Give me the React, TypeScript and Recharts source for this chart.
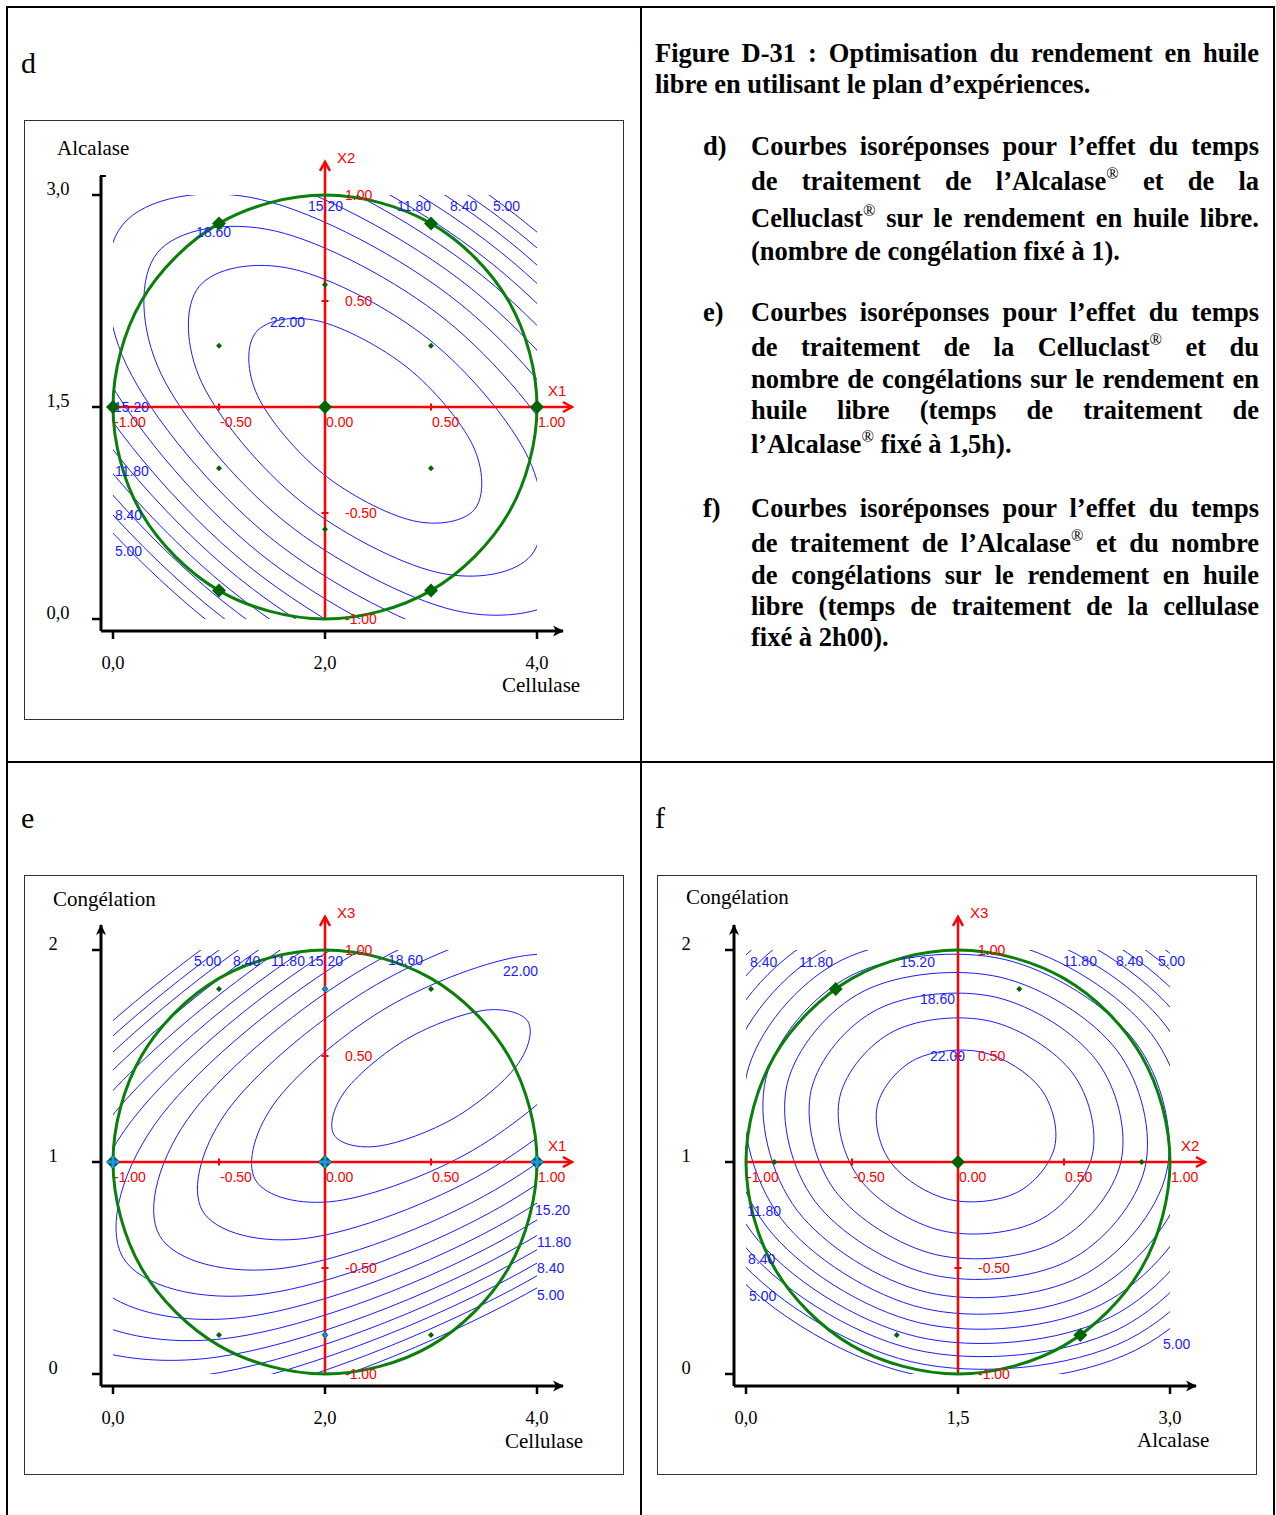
import React from 'react';
import { ComposedChart, Line, Scatter, XAxis, YAxis } from 'recharts';

type Pt = [number, number];
type Contour = { level: number; pts: Pt[] };
type CLabel = { x: number; y: number; text: string };

// ================= DATA (coded units -1..1) =================
// Panel d : X1 = Cellulase, X2 = Alcalase
const dContours: Contour[] = [
  { level: 22.0, pts: [[0.706,-0.482],[0.698,-0.183],[0.391,0.184],[-0.033,0.406],[-0.326,0.352],[-0.318,0.053],[-0.011,-0.314],[0.413,-0.536]] },
  { level: 20.3, pts: [[0.974,-0.698],[0.961,-0.244],[0.496,0.314],[-0.149,0.650],[-0.594,0.568],[-0.581,0.114],[-0.116,-0.444],[0.529,-0.780]] },
  { level: 18.6, pts: [[1.171,-0.857],[1.155,-0.290],[0.572,0.409],[-0.234,0.830],[-0.791,0.727],[-0.775,0.160],[-0.192,-0.539],[0.614,-0.960]] },
  { level: 16.9, pts: [[1.335,-0.989],[1.316,-0.327],[0.636,0.488],[-0.305,0.979],[-0.955,0.859],[-0.936,0.197],[-0.256,-0.618],[0.685,-1.109]] },
  { level: 15.2, pts: [[1.478,-1.104],[1.456,-0.360],[0.692,0.557],[-0.367,1.109],[-1.098,0.974],[-1.076,0.230],[-0.312,-0.687],[0.747,-1.239]] },
  { level: 13.5, pts: [[1.607,-1.208],[1.583,-0.389],[0.742,0.619],[-0.422,1.227],[-1.227,1.078],[-1.203,0.259],[-0.362,-0.749],[0.802,-1.357]] },
  { level: 11.8, pts: [[1.725,-1.303],[1.699,-0.416],[0.788,0.676],[-0.473,1.334],[-1.345,1.173],[-1.319,0.286],[-0.408,-0.806],[0.853,-1.464]] },
  { level: 10.1, pts: [[1.834,-1.392],[1.806,-0.441],[0.831,0.729],[-0.521,1.434],[-1.454,1.262],[-1.426,0.311],[-0.451,-0.859],[0.901,-1.564]] },
  { level: 8.4, pts: [[1.937,-1.474],[1.907,-0.465],[0.871,0.779],[-0.565,1.528],[-1.557,1.344],[-1.527,0.335],[-0.491,-0.909],[0.945,-1.658]] },
  { level: 6.7, pts: [[2.034,-1.553],[2.003,-0.487],[0.909,0.826],[-0.607,1.616],[-1.654,1.423],[-1.623,0.357],[-0.529,-0.956],[0.987,-1.746]] },
  { level: 5.0, pts: [[2.126,-1.627],[2.093,-0.508],[0.945,0.870],[-0.647,1.700],[-1.746,1.497],[-1.713,0.378],[-0.565,-1.000],[1.027,-1.830]] },
];

// Panel e : X1 = Cellulase, X3 = Congélation
const eContours: Contour[] = [
  { level: 23.7, pts: [[0.958,0.661],[0.747,0.715],[0.391,0.583],[0.099,0.340],[0.042,0.129],[0.253,0.075],[0.609,0.207],[0.901,0.450]] },
  { level: 22.0, pts: [[1.328,0.875],[0.946,0.974],[0.303,0.735],[-0.225,0.295],[-0.328,-0.085],[0.054,-0.184],[0.697,0.055],[1.225,0.495]] },
  { level: 20.3, pts: [[1.578,1.020],[1.081,1.149],[0.243,0.837],[-0.443,0.265],[-0.578,-0.230],[-0.081,-0.359],[0.757,-0.047],[1.443,0.525]] },
  { level: 18.6, pts: [[1.780,1.138],[1.189,1.290],[0.195,0.920],[-0.620,0.240],[-0.780,-0.348],[-0.189,-0.500],[0.805,-0.130],[1.620,0.550]] },
  { level: 16.9, pts: [[1.954,1.239],[1.283,1.412],[0.154,0.991],[-0.772,0.219],[-0.954,-0.449],[-0.283,-0.622],[0.846,-0.201],[1.772,0.571]] },
  { level: 15.2, pts: [[2.109,1.329],[1.367,1.520],[0.117,1.055],[-0.908,0.200],[-1.109,-0.539],[-0.367,-0.730],[0.883,-0.265],[1.908,0.590]] },
  { level: 13.5, pts: [[2.250,1.411],[1.443,1.619],[0.083,1.113],[-1.032,0.183],[-1.250,-0.621],[-0.443,-0.829],[0.917,-0.323],[2.032,0.607]] },
  { level: 11.8, pts: [[2.382,1.487],[1.514,1.711],[0.052,1.167],[-1.147,0.167],[-1.382,-0.697],[-0.514,-0.921],[0.948,-0.377],[2.147,0.623]] },
  { level: 10.1, pts: [[2.504,1.558],[1.580,1.797],[0.023,1.217],[-1.254,0.153],[-1.504,-0.768],[-0.580,-1.007],[0.977,-0.427],[2.254,0.637]] },
  { level: 8.4, pts: [[2.619,1.625],[1.642,1.877],[-0.005,1.264],[-1.355,0.139],[-1.619,-0.835],[-0.642,-1.087],[1.005,-0.474],[2.355,0.651]] },
  { level: 6.7, pts: [[2.729,1.688],[1.701,1.954],[-0.031,1.309],[-1.451,0.125],[-1.729,-0.898],[-0.701,-1.164],[1.031,-0.519],[2.451,0.665]] },
  { level: 5.0, pts: [[2.833,1.749],[1.757,2.027],[-0.056,1.352],[-1.542,0.113],[-1.833,-0.959],[-0.757,-1.237],[1.056,-0.562],[2.542,0.677]] },
];

// Panel f : X2 = Alcalase, X3 = Congélation
const fContours: Contour[] = [
  { level: 22.0, pts: [[0.456,0.072],[0.390,0.346],[0.119,0.517],[-0.200,0.485],[-0.380,0.268],[-0.314,-0.006],[-0.043,-0.177],[0.276,-0.145]] },
  { level: 20.3, pts: [[0.633,0.031],[0.539,0.421],[0.153,0.664],[-0.301,0.618],[-0.557,0.309],[-0.463,-0.081],[-0.077,-0.324],[0.377,-0.278]] },
  { level: 18.6, pts: [[0.768,-0.001],[0.654,0.478],[0.180,0.777],[-0.378,0.721],[-0.692,0.341],[-0.578,-0.138],[-0.104,-0.437],[0.454,-0.381]] },
  { level: 16.9, pts: [[0.882,-0.027],[0.750,0.526],[0.202,0.871],[-0.443,0.807],[-0.806,0.367],[-0.674,-0.186],[-0.126,-0.531],[0.519,-0.467]] },
  { level: 15.2, pts: [[0.983,-0.051],[0.835,0.568],[0.221,0.955],[-0.500,0.882],[-0.907,0.391],[-0.759,-0.228],[-0.145,-0.615],[0.576,-0.542]] },
  { level: 13.5, pts: [[1.073,-0.072],[0.911,0.606],[0.239,1.030],[-0.551,0.951],[-0.997,0.412],[-0.835,-0.266],[-0.163,-0.690],[0.627,-0.611]] },
  { level: 11.8, pts: [[1.157,-0.092],[0.981,0.642],[0.255,1.099],[-0.599,1.013],[-1.081,0.432],[-0.905,-0.302],[-0.179,-0.759],[0.675,-0.673]] },
  { level: 10.1, pts: [[1.234,-0.110],[1.047,0.674],[0.270,1.164],[-0.643,1.072],[-1.158,0.450],[-0.971,-0.334],[-0.194,-0.824],[0.719,-0.732]] },
  { level: 8.4, pts: [[1.307,-0.127],[1.108,0.705],[0.284,1.224],[-0.684,1.127],[-1.231,0.467],[-1.032,-0.365],[-0.208,-0.884],[0.760,-0.787]] },
  { level: 6.7, pts: [[1.376,-0.143],[1.166,0.734],[0.297,1.282],[-0.724,1.179],[-1.300,0.483],[-1.090,-0.394],[-0.221,-0.942],[0.800,-0.839]] },
  { level: 5.0, pts: [[1.442,-0.158],[1.221,0.762],[0.310,1.336],[-0.761,1.228],[-1.366,0.498],[-1.145,-0.422],[-0.234,-0.996],[0.837,-0.888]] },
];

// experimental domain (Doehlert sphere, radius 1)
const designCircle: Pt[] = [[1,0],[0.866,0.5],[0.5,0.866],[0,1],[-0.5,0.866],[-0.866,0.5],[-1,0],[-0.866,-0.5],[-0.5,-0.866],[0,-1],[0.5,-0.866],[0.866,-0.5]];

const dBigPoints: Pt[] = [[-1,0],[0,0],[1,0],[-0.5,0.866],[0.5,0.866],[-0.5,-0.866],[0.5,-0.866]];
const dSmallPoints: Pt[] = [[0,0.577],[-0.5,0.289],[0.5,0.289],[-0.5,-0.289],[0.5,-0.289],[0,-0.577]];
const eBigPoints: Pt[] = [[-1,0],[0,0],[1,0]];
const eSmallPoints: Pt[] = [[-0.5,0.816],[0.5,0.816],[-0.5,-0.816],[0.5,-0.816]];
const eSmallBluePoints: Pt[] = [[0,0.816],[0,-0.816]];
const fBigPoints: Pt[] = [[0,0],[-0.577,0.816],[0.577,-0.816]];
const fSmallPoints: Pt[] = [[-0.866,0],[0.866,0],[0.289,0.816],[-0.289,-0.816]];

const dContourLabels: CLabel[] = [
  { x: -0.080, y: 0.950, text: '15.20' }, { x: 0.340, y: 0.950, text: '11.80' },
  { x: 0.590, y: 0.950, text: '8.40' }, { x: 0.792, y: 0.950, text: '5.00' },
  { x: -0.608, y: 0.825, text: '18.60' }, { x: -0.259, y: 0.401, text: '22.00' },
  { x: -0.995, y: 0.0, text: '15.20' }, { x: -0.991, y: -0.304, text: '11.80' },
  { x: -0.991, y: -0.507, text: '8.40' }, { x: -0.991, y: -0.677, text: '5.00' },
];
const eContourLabels: CLabel[] = [
  { x: -0.618, y: 0.948, text: '5.00' }, { x: -0.434, y: 0.948, text: '8.40' },
  { x: -0.255, y: 0.948, text: '11.80' }, { x: -0.080, y: 0.948, text: '15.20' },
  { x: 0.297, y: 0.953, text: '18.60' }, { x: 0.840, y: 0.901, text: '22.00' },
  { x: 0.991, y: -0.226, text: '15.20' }, { x: 1.0, y: -0.377, text: '11.80' },
  { x: 1.0, y: -0.500, text: '8.40' }, { x: 1.0, y: -0.627, text: '5.00' },
];
const fContourLabels: CLabel[] = [
  { x: -0.981, y: 0.943, text: '8.40' }, { x: -0.750, y: 0.943, text: '11.80' },
  { x: -0.274, y: 0.943, text: '15.20' }, { x: -0.179, y: 0.769, text: '18.60' },
  { x: -0.132, y: 0.500, text: '22.00' }, { x: 0.495, y: 0.948, text: '11.80' },
  { x: 0.745, y: 0.948, text: '8.40' }, { x: 0.943, y: 0.948, text: '5.00' },
  { x: -0.995, y: -0.231, text: '11.80' }, { x: -0.990, y: -0.458, text: '8.40' },
  { x: -0.986, y: -0.632, text: '5.00' }, { x: 0.967, y: -0.858, text: '5.00' },
];

const outerTicks = [-1, 0, 1];
const dXTickLabels = ['0,0', '2,0', '4,0'];
const dYTickLabels = ['0,0', '1,5', '3,0'];
const eXTickLabels = ['0,0', '2,0', '4,0'];
const eYTickLabels = ['0', '1', '2'];
const fXTickLabels = ['0,0', '1,5', '3,0'];
const fYTickLabels = ['0', '1', '2'];

const hAxisTicks = [-1, -0.5, 0, 0.5, 1];
const hAxisTickLabels = ['-1.00', '-0.50', '0.00', '0.50', '1.00'];
const vAxisTicks = [1, 0.5, -0.5, -1];
const vAxisTickLabels = ['1.00', '0.50', '-0.50', '-1.00'];
const hAxisEnd = 1.165;
const vAxisEnd = 1.156;

// ================= STYLE / LAYOUT =================
const SANS = '"Liberation Sans", Arial, sans-serif';
const SERIF = '"Liberation Serif", "Times New Roman", serif';
const BLUE = '#1a1aff';
const RED = '#ff0000';
const GREEN_LINE = '#0a7f0a';
const GREEN_PT = '#006400';
const CROSS_BLUE = '#1e90ff';

const BOX = 600;
const C_X = 301, C_Y = 287, UNIT = 212;
const PLOT_L = 77, PLOT_R = 560, PLOT_T = 35, PLOT_B = 511;
const toX = (px: number) => (px - C_X) / UNIT;
const toY = (py: number) => (C_Y - py) / UNIT;

// Catmull-Rom closed curve (passes through every point)
function catmullRom(closed: boolean) {
  return (context: any) => {
    let pts: number[][] = [];
    return {
      areaStart() {},
      areaEnd() {},
      lineStart() { pts = []; },
      point(x: number, y: number) { pts.push([+x, +y]); },
      lineEnd() {
        const n = pts.length;
        if (!n) return;
        const at = (i: number) => closed ? pts[((i % n) + n) % n] : pts[Math.min(n - 1, Math.max(0, i))];
        context.moveTo(pts[0][0], pts[0][1]);
        const segs = closed ? n : n - 1;
        for (let i = 0; i < segs; i++) {
          const p0 = at(i - 1), p1 = at(i), p2 = at(i + 1), p3 = at(i + 2);
          context.bezierCurveTo(
            p1[0] + (p2[0] - p0[0]) / 6, p1[1] + (p2[1] - p0[1]) / 6,
            p2[0] - (p3[0] - p1[0]) / 6, p2[1] - (p3[1] - p1[1]) / 6,
            p2[0], p2[1]);
        }
        if (closed) context.closePath();
      },
    };
  };
}
const closedCurve = catmullRom(true);

const toXY = (pts: Pt[]) => pts.map(([x, y]) => ({ x, y }));

const diamond = (half: number, fill: string) => (p: any) => (
  <polygon points={`${p.cx},${p.cy - half} ${p.cx + half},${p.cy} ${p.cx},${p.cy + half} ${p.cx - half},${p.cy}`} fill={fill} />
);
const crossDiamond = (p: any) => (
  <g>
    <polygon points={`${p.cx},${p.cy - 7} ${p.cx + 7},${p.cy} ${p.cx},${p.cy + 7} ${p.cx - 7},${p.cy}`} fill={GREEN_PT} />
    <path d={`M${p.cx - 6},${p.cy}H${p.cx + 6}M${p.cx},${p.cy - 6}V${p.cy + 6}`} stroke={CROSS_BLUE} strokeWidth={3} />
  </g>
);
const smallCross = (p: any) => (
  <g>
    <polygon points={`${p.cx},${p.cy - 3.5} ${p.cx + 3.5},${p.cy} ${p.cx},${p.cy + 3.5} ${p.cx - 3.5},${p.cy}`} fill={GREEN_PT} />
    <path d={`M${p.cx - 3},${p.cy}H${p.cx + 3}M${p.cx},${p.cy - 3}V${p.cy + 3}`} stroke={CROSS_BLUE} strokeWidth={1.5} />
  </g>
);

type PanelProps = {
  left: number; top: number;
  contours: Contour[]; labels: CLabel[];
  big: Pt[]; small: Pt[]; smallBlue?: Pt[]; crossMarkers?: boolean;
  xTickLabels: string[]; yTickLabels: string[];
  hName: string; vName: string;
  xTitle: string; yTitle: string;
  yTickCenter: number; yAxisTopPx: number; yArrow: boolean;
  titleY: { x: number; base: number }; titleX: { x: number; base: number };
};

function Txt(props: { x: number; base: number; size: number; bold?: boolean; width?: number; justify?: boolean; children: any }) {
  const { x, base, size, bold, width, justify, children } = props;
  return (
    <div style={{
      position: 'absolute', left: x, top: base - 0.8375 * size, width: width, fontFamily: SERIF,
      fontSize: size, lineHeight: `${size}px`, fontWeight: bold ? 'bold' : 'normal', color: '#000',
      textAlign: justify ? 'justify' : 'left', textAlignLast: justify ? 'justify' : 'left', whiteSpace: width ? 'normal' : 'nowrap',
    } as any}>{children}</div>
  );
}

function Panel(props: PanelProps) {
  const { left, top } = props;
  const xDom = [toX(PLOT_L), toX(PLOT_R)];
  const yDom = [toY(PLOT_B), toY(PLOT_T)];
  const xTip = toX(539);
  const yTip = toY(props.yAxisTopPx);
  const outerXLine = [{ x: xDom[0], y: yDom[0] }, { x: xTip, y: yDom[0] }];
  const outerYLine = [{ x: xDom[0], y: yDom[0] }, { x: xDom[0], y: yTip }];
  const hLine = [{ x: -1, y: 0 }, { x: hAxisEnd, y: 0 }];
  const vLine = [{ x: 0, y: -1 }, { x: 0, y: vAxisEnd }];
  const hTickMarks = hAxisTicks.filter(v => Math.abs(v) === 0.5).map(v => ({ x: v, y: 0 }));
  const vTickMarks = vAxisTicks.filter(v => Math.abs(v) === 0.5).map(v => ({ x: 0, y: v }));
  const hLabels = hAxisTicks.map((v, i) => ({ x: v, y: 0, text: hAxisTickLabels[i] }));
  const vLabels = vAxisTicks.map((v, i) => ({ x: 0, y: v, text: vAxisTickLabels[i] }));

  const XTick = (p: any) => {
    const i = outerTicks.indexOf(p.payload.value);
    return <text x={p.x} y={PLOT_B + 38} textAnchor="middle" fontFamily={SERIF} fontSize={18.5} fill="#000">{props.xTickLabels[i]}</text>;
  };
  const YTick = (p: any) => {
    const i = outerTicks.indexOf(p.payload.value);
    return <text x={props.yTickCenter} y={p.y - 6} dy="0.35em" textAnchor="middle" fontFamily={SERIF} fontSize={18.5} fill="#000">{props.yTickLabels[i]}</text>;
  };

  return (
    <>
      <div style={{ position: 'absolute', left, top, width: BOX, height: BOX, border: '1px solid #333', boxSizing: 'border-box' }} />
      <div style={{ position: 'absolute', left: left + C_X - UNIT, top: top + C_Y - UNIT, width: 2 * UNIT, height: 2 * UNIT, overflow: 'hidden' }}>
        <ComposedChart width={2 * UNIT} height={2 * UNIT} margin={{ top: 0, right: 0, bottom: 0, left: 0 }}>
          <XAxis dataKey="x" type="number" domain={[-1, 1]} allowDataOverflow hide />
          <YAxis dataKey="y" type="number" domain={[-1, 1]} allowDataOverflow hide />
          {props.contours.map((c, i) => (
            <Line key={i} data={toXY(c.pts)} dataKey="y" type={closedCurve as any} stroke={BLUE} strokeWidth={1}
              dot={false} activeDot={false} isAnimationActive={false} />
          ))}
        </ComposedChart>
      </div>
      <div style={{ position: 'absolute', left, top, width: BOX, height: BOX }}>
        <ComposedChart width={BOX} height={BOX} margin={{ top: PLOT_T, right: BOX - PLOT_R, bottom: BOX - PLOT_B - 40, left: PLOT_L - 60 }}>
          <XAxis dataKey="x" type="number" domain={xDom} ticks={outerTicks} interval={0} tick={XTick}
            tickSize={8} tickLine={{ stroke: '#000', strokeWidth: 2.5 }} axisLine={false} height={40} />
          <YAxis dataKey="y" type="number" domain={yDom} ticks={outerTicks} interval={0} tick={YTick}
            tickSize={9} tickLine={{ stroke: '#000', strokeWidth: 2.5 }} axisLine={false} width={60} />
          <Line data={outerXLine} dataKey="y" type="linear" stroke="#000" strokeWidth={3} dot={false} activeDot={false} isAnimationActive={false} />
          <Line data={outerYLine} dataKey="y" type="linear" stroke="#000" strokeWidth={3} dot={false} activeDot={false} isAnimationActive={false} />
          <Scatter data={[outerXLine[1]]} isAnimationActive={false}
            shape={(p: any) => <polygon points={`${p.cx + 1},${p.cy} ${p.cx - 10},${p.cy - 5.5} ${p.cx - 7},${p.cy} ${p.cx - 10},${p.cy + 5.5}`} fill="#000" />} />
          <Scatter data={[outerYLine[1]]} isAnimationActive={false}
            shape={(p: any) => props.yArrow
              ? <polygon points={`${p.cx},${p.cy - 1} ${p.cx - 5},${p.cy + 10} ${p.cx},${p.cy + 7} ${p.cx + 5},${p.cy + 10}`} fill="#000" />
              : <path d={`M${p.cx - 1},${p.cy}H${p.cx + 5}`} stroke="#000" strokeWidth={2} />} />
          <Scatter data={props.labels} isAnimationActive={false}
            shape={(p: any) => <text x={p.cx} y={p.cy} dy="0.36em" fontFamily={SANS} fontSize={14} fill={BLUE}>{p.payload.text}</text>} />
          <Line data={hLine} dataKey="y" type="linear" stroke={RED} strokeWidth={2.5} dot={false} activeDot={false} isAnimationActive={false} />
          <Line data={vLine} dataKey="y" type="linear" stroke={RED} strokeWidth={2.5} dot={false} activeDot={false} isAnimationActive={false} />
          <Scatter data={hTickMarks} isAnimationActive={false}
            shape={(p: any) => <path d={`M${p.cx},${p.cy - 3.5}V${p.cy + 3.5}`} stroke={RED} strokeWidth={2} />} />
          <Scatter data={vTickMarks} isAnimationActive={false}
            shape={(p: any) => <path d={`M${p.cx - 3.5},${p.cy}H${p.cx + 3.5}`} stroke={RED} strokeWidth={2} />} />
          <Scatter data={[hLine[1]]} isAnimationActive={false}
            shape={(p: any) => <g>
              <polyline points={`${p.cx - 9},${p.cy - 5} ${p.cx},${p.cy} ${p.cx - 9},${p.cy + 5}`} fill="none" stroke={RED} strokeWidth={2.5} />
              <text x={p.cx - 24} y={p.cy - 11} fontFamily={SANS} fontSize={15} fill={RED}>{props.hName}</text>
            </g>} />
          <Scatter data={[vLine[1]]} isAnimationActive={false}
            shape={(p: any) => <g>
              <polyline points={`${p.cx - 5},${p.cy + 9} ${p.cx},${p.cy} ${p.cx + 5},${p.cy + 9}`} fill="none" stroke={RED} strokeWidth={2.5} />
              <text x={p.cx + 12} y={p.cy + 1} fontFamily={SANS} fontSize={15} fill={RED}>{props.vName}</text>
            </g>} />
          <Scatter data={hLabels} isAnimationActive={false}
            shape={(p: any) => <text x={p.cx + 1} y={p.cy + 20} fontFamily={SANS} fontSize={14} fill={RED}>{p.payload.text}</text>} />
          <Scatter data={vLabels} isAnimationActive={false}
            shape={(p: any) => <text x={p.cx + 20} y={p.cy + 5} fontFamily={SANS} fontSize={14} fill={RED}>{p.payload.text}</text>} />
          <Line data={toXY(designCircle)} dataKey="y" type={closedCurve as any} stroke={GREEN_LINE} strokeWidth={3}
            dot={false} activeDot={false} isAnimationActive={false} />
          <Scatter data={toXY(props.small)} isAnimationActive={false} shape={diamond(3, GREEN_PT)} />
          {props.smallBlue ? <Scatter data={toXY(props.smallBlue)} isAnimationActive={false} shape={smallCross} /> : null}
          <Scatter data={toXY(props.big)} isAnimationActive={false} shape={props.crossMarkers ? crossDiamond : diamond(7, GREEN_PT)} />
        </ComposedChart>
      </div>
      <Txt x={props.titleY.x} base={props.titleY.base} size={21}>{props.yTitle}</Txt>
      <Txt x={props.titleX.x} base={props.titleX.base} size={21}>{props.xTitle}</Txt>
    </>
  );
}

// ================= CAPTION TEXT =================
const titleLines = ['Figure D-31 : Optimisation du rendement en huile', 'libre en utilisant le plan d’expériences.'];
const titleBaselines = [62, 93];
const captionItems = [
  { tag: 'd)', lines: ['Courbes isoréponses pour l’effet du temps', 'de traitement de l’Alcalase® et de la', 'Celluclast® sur le rendement en huile libre.', '(nombre de congélation fixé à 1).'], baselines: [155, 190, 227, 260] },
  { tag: 'e)', lines: ['Courbes isoréponses pour l’effet du temps', 'de traitement de la Celluclast® et du', 'nombre de congélations sur le rendement en', 'huile libre (temps de traitement de', 'l’Alcalase® fixé à 1,5h).'], baselines: [321, 356, 388, 419, 453] },
  { tag: 'f)', lines: ['Courbes isoréponses pour l’effet du temps', 'de traitement de l’Alcalase® et du nombre', 'de congélations sur le rendement en huile', 'libre (temps de traitement de la cellulase', 'fixé à 2h00).'], baselines: [517, 552, 584, 615, 646] },
];

const withSup = (s: string) => {
  const parts = s.split('®');
  const out: any[] = [];
  parts.forEach((p, i) => {
    out.push(<React.Fragment key={'t' + i}>{p}</React.Fragment>);
    if (i < parts.length - 1) out.push(<span key={'s' + i} style={{ fontSize: '0.62em', fontWeight: 'normal', position: 'relative', top: '-0.68em', lineHeight: 0 }}>®</span>);
  });
  return out;
};

const CAP = 26.5;

export default function App() {
  const line = (l: number, t: number, w: number, h: number) => (
    <div style={{ position: 'absolute', left: l, top: t, width: w, height: h, background: '#000' }} />
  );
  return (
    <div style={{ position: 'absolute', left: 0, top: 0, width: 1276, height: 1515, background: '#fff', overflow: 'hidden' }}>
      {line(6, 6, 1269, 2)}
      {line(6, 6, 2, 1509)}
      {line(1273, 6, 2, 1509)}
      {line(640, 6, 2, 1509)}
      {line(6, 761, 1269, 2)}

      <Txt x={21} base={73} size={30}>d</Txt>
      <Txt x={21} base={828} size={30}>e</Txt>
      <Txt x={655} base={828} size={30}>f</Txt>

      {titleLines.map((s, i) => (
        <Txt key={'ti' + i} x={655} base={titleBaselines[i]} size={CAP} bold width={604} justify={i < titleLines.length - 1}>{s}</Txt>
      ))}
      {captionItems.map((it, k) => (
        <React.Fragment key={'c' + k}>
          <Txt x={703} base={it.baselines[0]} size={CAP} bold>{it.tag}</Txt>
          {it.lines.map((s, i) => (
            <Txt key={'l' + i} x={751} base={it.baselines[i]} size={CAP} bold width={508} justify={i < it.lines.length - 1}>{withSup(s)}</Txt>
          ))}
        </React.Fragment>
      ))}

      <Panel left={24} top={120} contours={dContours} labels={dContourLabels} big={dBigPoints} small={dSmallPoints}
        xTickLabels={dXTickLabels} yTickLabels={dYTickLabels} hName="X1" vName="X2" xTitle="Cellulase" yTitle="Alcalase"
        yTickCenter={34} yAxisTopPx={56} yArrow={false}
        titleY={{ x: 57, base: 156 }} titleX={{ x: 502, base: 693 }} />
      <Panel left={24} top={875} contours={eContours} labels={eContourLabels} big={eBigPoints} small={eSmallPoints} smallBlue={eSmallBluePoints} crossMarkers
        xTickLabels={eXTickLabels} yTickLabels={eYTickLabels} hName="X1" vName="X3" xTitle="Cellulase" yTitle="Congélation"
        yTickCenter={29} yAxisTopPx={50} yArrow
        titleY={{ x: 53, base: 907 }} titleX={{ x: 505, base: 1449 }} />
      <Panel left={657} top={875} contours={fContours} labels={fContourLabels} big={fBigPoints} small={fSmallPoints}
        xTickLabels={fXTickLabels} yTickLabels={fYTickLabels} hName="X2" vName="X3" xTitle="Alcalase" yTitle="Congélation"
        yTickCenter={29} yAxisTopPx={50} yArrow
        titleY={{ x: 686, base: 905 }} titleX={{ x: 1137, base: 1448 }} />
    </div>
  );
}
